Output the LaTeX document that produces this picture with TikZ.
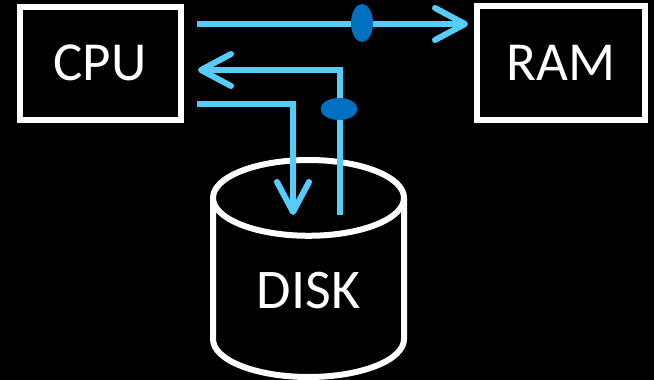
\documentclass[tikz,border=0pt]{standalone}
\usepackage{fontspec}
\setmainfont{Carlito}
\usetikzlibrary{arrows.meta, shapes.geometric}

\definecolor{linkblue}{RGB}{86,204,250}
\definecolor{markblue}{RGB}{0,112,192}

\begin{document}
\begin{tikzpicture}[x=1pt, y=-1pt, line width=6pt,
		box/.style={draw=white, text=white, inner sep=0pt, outer sep=0pt, font=\fontsize{55}{60}\selectfont},
		disk/.style={draw=white, text=white, cylinder, shape border rotate=90, aspect=0.733, inner sep=0pt, outer sep=0pt, font=\fontsize{56}{60}\selectfont},
		link/.style={draw=linkblue, -{Straight Barb[length=30pt, width=32pt, round]}},
		marker/.style={fill=markblue, ellipse, inner sep=0pt}]
			\fill[black] (0, 0) rectangle (654, 380);
			
			\coordinate (cpuout) at (197, 24);
			\coordinate (ramin) at (468, 24);
			\coordinate (diskout) at (340, 215);
			\coordinate (diskturn) at (340, 70);
			\coordinate (cpuin) at (198, 70);
			\coordinate (cpudown) at (197, 104);
			\coordinate (downturn) at (293, 104);
			\coordinate (diskin) at (293, 215);
			
			\node[box, minimum width=161pt, minimum height=113pt] (cpu) at (100, 63) {CPU};
			\node[box, minimum width=168pt, minimum height=114pt] (ram) at (561, 63) {RAM};
			\node[disk, minimum width=191pt, minimum height=217pt, text height=39pt, text depth=0pt, anchor=shape center] (disk) at (308.5, 268.5) {DISK};
			
			\draw[link] (cpuout) -- (ramin);
			\draw[link] (diskout) -- (diskturn) -- (cpuin);
			\draw[link] (cpudown) -- (downturn) -- (diskin);
			
			\node[marker, minimum width=22pt, minimum height=38pt] (busram) at (362, 23) {};
			\node[marker, minimum width=37pt, minimum height=22pt] (busdisk) at (339, 109) {};
			
		\end{tikzpicture}
\end{document}
